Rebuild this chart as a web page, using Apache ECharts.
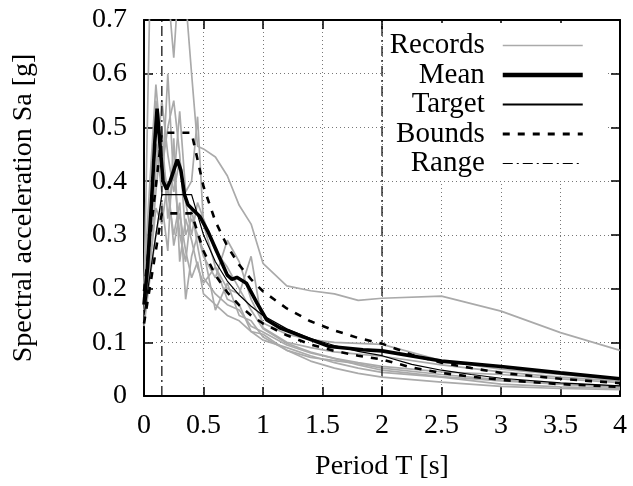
<!DOCTYPE html>
<html><head><meta charset="utf-8">
<script src="https://cdn.jsdelivr.net/npm/echarts@6/dist/echarts.min.js"></script>
<style>html,body{margin:0;padding:0;background:#fff}#c{width:633px;height:486px}</style>
</head><body><div id="c"></div>
<script>
// ---- data ----
const recPeriods = [0,0.05,0.1,0.15,0.2,0.25,0.3,0.35,0.4,0.45,0.5,0.6,0.7,0.8,0.9,1.0,1.2,1.4,1.6,1.8,2.0,2.5,3.0,3.5,4.0];
const rec1 = [0.19,0.75,0.9,0.85,0.76,0.63,0.8,0.74,0.6,0.465,0.46,0.445,0.41,0.355,0.32,0.247,0.205,0.196,0.19,0.178,0.182,0.186,0.158,0.118,0.085];
const rec2 = [0.16,0.30,0.55,0.42,0.50,0.55,0.45,0.30,0.33,0.30,0.26,0.22,0.29,0.25,0.18,0.136,0.115,0.105,0.100,0.098,0.096,0.066,0.050,0.040,0.030];
const rec3 = [0.18,0.35,0.47,0.38,0.60,0.40,0.53,0.38,0.40,0.52,0.32,0.24,0.20,0.19,0.26,0.127,0.100,0.090,0.082,0.078,0.074,0.058,0.045,0.035,0.028];
const rec4 = [0.14,0.25,0.38,0.50,0.33,0.42,0.30,0.25,0.35,0.28,0.22,0.19,0.17,0.16,0.13,0.119,0.095,0.080,0.070,0.062,0.055,0.045,0.040,0.032,0.025];
const rec5 = [0.21,0.40,0.58,0.45,0.38,0.30,0.36,0.18,0.26,0.30,0.27,0.16,0.21,0.15,0.14,0.11,0.085,0.072,0.066,0.060,0.052,0.040,0.030,0.022,0.018];
const rec6 = [0.13,0.22,0.30,0.36,0.27,0.48,0.25,0.33,0.29,0.24,0.21,0.24,0.18,0.17,0.12,0.104,0.090,0.075,0.062,0.052,0.044,0.035,0.022,0.017,0.014];
const rec7 = [0.17,0.28,0.42,0.55,0.45,0.38,0.44,0.36,0.30,0.36,0.33,0.27,0.24,0.20,0.16,0.125,0.098,0.082,0.070,0.058,0.048,0.036,0.028,0.022,0.016];
const rec8 = [0.15,0.24,0.35,0.32,0.40,0.28,0.34,0.27,0.22,0.25,0.19,0.17,0.15,0.14,0.12,0.115,0.085,0.065,0.052,0.042,0.035,0.026,0.018,0.014,0.012];
const records = [rec1,rec2,rec3,rec4,rec5,rec6,rec7,rec8];

const meanPeriods = [0,0.03,0.06,0.09,0.11,0.13,0.16,0.19,0.22,0.25,0.28,0.31,0.34,0.37,0.42,0.47,0.54,0.62,0.7,0.74,0.78,0.86,0.95,1.03,1.14,1.34,1.56,1.84,2.0,2.5,3.0,3.5,4.0];
const meanSa = [0.17,0.24,0.35,0.47,0.535,0.48,0.40,0.385,0.40,0.42,0.44,0.42,0.375,0.356,0.345,0.334,0.305,0.265,0.225,0.217,0.221,0.21,0.173,0.142,0.127,0.11,0.092,0.086,0.084,0.065,0.055,0.043,0.032];

const targetPeriods = [0,0.15,0.4,0.5,0.6,0.7,0.8,0.9,1.0,1.2,1.4,1.6,1.8,2.0,2.25,2.5,2.75,3.0,3.5,4.0];
const targetSa = [0.15,0.375,0.375,0.30,0.25,0.214,0.188,0.167,0.15,0.125,0.107,0.094,0.083,0.075,0.059,0.048,0.040,0.033,0.0245,0.019];
const upperSa  = [0.195,0.49,0.49,0.39,0.325,0.279,0.244,0.217,0.195,0.163,0.139,0.122,0.108,0.0975,0.077,0.062,0.052,0.043,0.032,0.024];
const lowerSa  = [0.135,0.34,0.34,0.27,0.225,0.193,0.169,0.15,0.135,0.113,0.096,0.084,0.075,0.068,0.053,0.043,0.036,0.030,0.022,0.017];

const rangeLimits = [0.15, 2.0];
const xTicks = ['0','0.5','1','1.5','2','2.5','3','3.5','4'];
const yTicks = ['0','0.1','0.2','0.3','0.4','0.5','0.6','0.7'];

// ---- chart ----
const FONT = 'Liberation Serif';
const pairs = (xs, ys) => xs.map((x, i) => [x, ys[i]]);
const chart = echarts.init(document.getElementById('c'), null, {renderer: 'canvas'});

const series = [];
records.forEach(r => series.push({
  name: 'Records', type: 'line', data: pairs(recPeriods, r), symbol: 'none',
  lineStyle: {color: '#aaaaaa', width: 1.7}, itemStyle: {color: '#aaaaaa'}, z: 2, silent: true
}));
series.push({name: 'Bounds', type: 'line', data: pairs(targetPeriods, upperSa), symbol: 'none',
  lineStyle: {color: '#000', width: 2.6, type: [7, 8]}, itemStyle: {color: '#000'}, z: 3});
series.push({name: 'Bounds', type: 'line', data: pairs(targetPeriods, lowerSa), symbol: 'none',
  lineStyle: {color: '#000', width: 2.6, type: [7, 8]}, itemStyle: {color: '#000'}, z: 3});
series.push({name: 'Target', type: 'line', data: pairs(targetPeriods, targetSa), symbol: 'none',
  lineStyle: {color: '#000', width: 1.2}, itemStyle: {color: '#000'}, z: 4});
series.push({name: 'Mean', type: 'line', data: pairs(meanPeriods, meanSa), symbol: 'none',
  lineStyle: {color: '#000', width: 3.6}, itemStyle: {color: '#000'}, z: 5});
rangeLimits.forEach(t => series.push({name: 'Range', type: 'line', data: [[t, 0], [t, 0.7]], symbol: 'none',
  lineStyle: {color: '#000', width: 1.2, type: [10, 4, 2, 4]}, itemStyle: {color: '#000'}, z: 5}));

const common = {min: 0, type: 'value', axisLine: {show: true, onZero: false, lineStyle: {color: '#000', width: 2}}};

chart.setOption({
  animation: false,
  backgroundColor: '#fff',
  grid: {left: 144, right: 13, top: 20, bottom: 90, containLabel: false},
  xAxis: [
    Object.assign({}, common, {position: 'bottom', max: 4, interval: 0.5,
      name: 'Period T [s]', nameLocation: 'middle', nameGap: 57,
      nameTextStyle: {fontFamily: FONT, fontSize: 28, color: '#000'},
      axisTick: {inside: true, length: 9, lineStyle: {color: '#000', width: 1.5}},
      axisLabel: {fontFamily: FONT, fontSize: 28, color: '#000', margin: 16,
        formatter: v => xTicks[Math.round(v / 0.5)]},
      splitLine: {show: true, lineStyle: {color: '#777', width: 1, type: [1, 3]}}}),
    Object.assign({}, common, {position: 'top', max: 4, interval: 0.5,
      axisTick: {inside: true, length: 9, lineStyle: {color: '#000', width: 1.5}},
      axisLabel: {show: false}, splitLine: {show: false}})
  ],
  yAxis: [
    Object.assign({}, common, {position: 'left', max: 0.7, interval: 0.1,
      name: 'Spectral acceleration Sa [g]', nameLocation: 'middle', nameGap: 106,
      nameTextStyle: {fontFamily: FONT, fontSize: 28, color: '#000'},
      axisTick: {inside: true, length: 9, lineStyle: {color: '#000', width: 1.5}},
      axisLabel: {fontFamily: FONT, fontSize: 28, color: '#000', margin: 17,
        formatter: v => yTicks[Math.round(v / 0.1)]},
      splitLine: {show: true, lineStyle: {color: '#777', width: 1, type: [1, 3]}}}),
    Object.assign({}, common, {position: 'right', max: 0.7, interval: 0.1,
      axisTick: {inside: true, length: 9, lineStyle: {color: '#000', width: 1.5}},
      axisLabel: {show: false}, splitLine: {show: false}})
  ],
  legend: {
    orient: 'vertical', align: 'right', right: 28, top: 23,
    backgroundColor: '#fff', padding: [8, 20, 3, 3],
    itemWidth: 80, itemHeight: 14, itemGap: 0.5,
    itemStyle: {opacity: 0},
    textStyle: {fontFamily: FONT, fontSize: 29, color: '#000', lineHeight: 26, padding: [0, 13, 0, 0]},
    data: [
      {name: 'Records', lineStyle: {width: 1.7, color: '#aaaaaa'}},
      {name: 'Mean', lineStyle: {width: 4.5}},
      {name: 'Target', lineStyle: {width: 1.8}},
      {name: 'Bounds', lineStyle: {width: 3}},
      {name: 'Range', lineStyle: {width: 1.2}}
    ]
  },
  series: series
});
</script></body></html>
